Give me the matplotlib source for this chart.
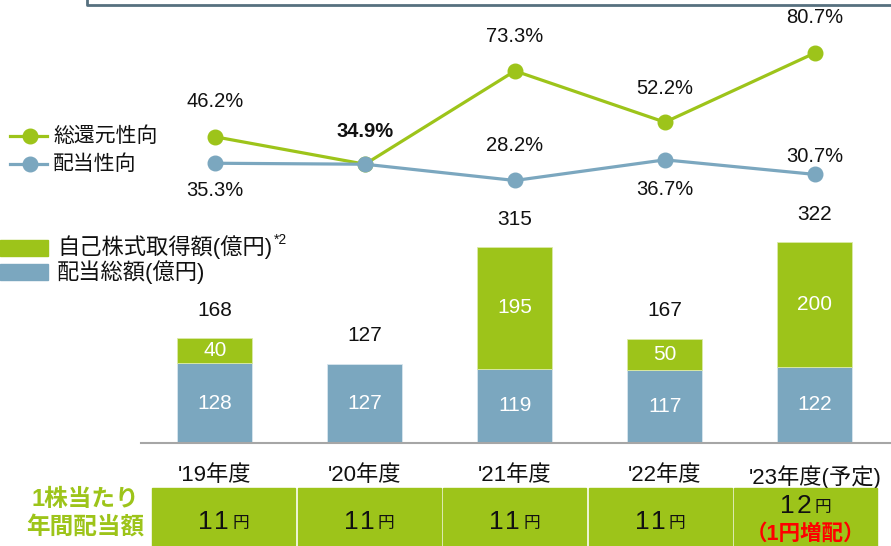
import matplotlib
matplotlib.use("Agg")
import matplotlib.pyplot as plt
from matplotlib.lines import Line2D
from matplotlib.patches import Rectangle
import numpy as np

plt.rcParams['font.family'] = ['Liberation Sans', 'Noto Sans CJK JP']

# fiscal years
years = ["'19年度", "'20年度", "'21年度", "'22年度", "'23年度(予定)"]
# payout ratios (%)
total_return = [46.2, 34.9, 73.3, 52.2, 80.7]
payout = [35.3, 34.9, 28.2, 36.7, 30.7]
# amounts (100 million yen)
dividends = [128, 127, 119, 117, 122]
buyback = [40, 0, 195, 50, 200]
totals = [168, 127, 315, 167, 322]
# annual dividend per share (yen)
dps = [11, 11, 11, 11, 12]
dps_note = ["", "", "", "", "（1円増配）"]

GREEN = "#9dc41a"
BLUE = "#7ba7bf"
TXT = "#111111"

W, H = 891, 546
fig = plt.figure(figsize=(W / 100, H / 100), dpi=100)


def fx(px):
    return px / W


def fy(py):
    return 1 - py / H


def px_axes(left, top, right, bottom):
    return fig.add_axes([fx(left), fy(bottom), (right - left) / W, (bottom - top) / H])


x = np.arange(len(years))
xlim = (-0.493, 4.507)

# frame of the upper panel (only its lower edge is visible)
fig.add_artist(Line2D([fx(87), fx(87), fx(891)], [fy(0), fy(5), fy(5)],
                      transform=fig.transFigure, color="#56707f", lw=2))

# ---- ratio lines
axl = px_axes(141, 0, 891, 249)
axl.set_xlim(*xlim)
axl.set_ylim(0, 102.5)
axl.axis("off")
axl.plot(x, total_return, color=GREEN, lw=2.3, marker="o", ms=10.5, clip_on=False, zorder=3)
axl.plot(x, payout, color=BLUE, lw=2.3, marker="o", ms=10.5, clip_on=False, zorder=4)

# label offsets in pixels (positive = above)
green_off = [35, 33, 34, 34, 35]
blue_off = [-27, 0, 35, -30, 18]
for i in x:
    same = total_return[i] == payout[i]
    axl.annotate(f"{total_return[i]:.1f}%", (i, total_return[i]), xytext=(0, green_off[i] * 0.72),
                 textcoords="offset points", ha="center", va="center", fontsize=14.5,
                 fontweight="bold" if same else "normal", color=TXT, annotation_clip=False)
    if same:
        continue
    axl.annotate(f"{payout[i]:.1f}%", (i, payout[i]), xytext=(0, blue_off[i] * 0.72),
                 textcoords="offset points", ha="center", va="center", fontsize=14.5,
                 color=TXT, annotation_clip=False)

# line legend
for py, col, lab in [(136, GREEN, "総還元性向"), (164, BLUE, "配当性向")]:
    fig.add_artist(Line2D([fx(10), fx(47)], [fy(py), fy(py)], transform=fig.transFigure,
                          color=col, lw=2.3))
    fig.add_artist(Line2D([fx(30)], [fy(py)], transform=fig.transFigure, color=col,
                          marker="o", ms=10.5))
    fig.text(fx(53), fy(py), lab, ha="left", va="center", fontsize=15, color=TXT)

# bar legend
fig.add_artist(Rectangle((0, fy(256)), fx(48), 16 / H, transform=fig.transFigure, color=GREEN))
fig.add_artist(Rectangle((0, fy(280)), fx(48), 16 / H, transform=fig.transFigure, color=BLUE))
t = fig.text(fx(57), fy(247), "自己株式取得額(億円)", ha="left", va="center", fontsize=16, color=TXT)
fig.text(fx(57), fy(272), "配当総額(億円)", ha="left", va="center", fontsize=16, color=TXT)
bb = t.get_window_extent(fig.canvas.get_renderer())
fig.text(bb.x1 / W + fx(2), fy(240), "*2", ha="left", va="center", fontsize=10, color=TXT)

# ---- stacked bars
axb = px_axes(141, 200, 891, 443)
axb.set_xlim(*xlim)
axb.set_ylim(0, 389)
for s in ["top", "right", "left"]:
    axb.spines[s].set_visible(False)
axb.spines["bottom"].set_color("#a6a6a6")
axb.spines["bottom"].set_linewidth(1.5)
axb.set_yticks([])
axb.bar(x, dividends, width=0.5, color=BLUE, edgecolor="#d8e6ee", lw=0.6)
has_bb = np.array(buyback) > 0
axb.bar(x[has_bb], np.array(buyback)[has_bb], width=0.5, bottom=np.array(dividends)[has_bb],
        color=GREEN, edgecolor="#dbeaa8", lw=0.6)
axb.set_xticks(x)
axb.set_xticklabels(years, fontsize=16, color=TXT)
axb.tick_params(axis="x", length=0, pad=16)

for i in x:
    axb.text(i, dividends[i] / 2, f"{dividends[i]}", ha="center", va="center",
             fontsize=15, color="white")
    if buyback[i]:
        axb.text(i, dividends[i] + buyback[i] / 2, f"{buyback[i]}", ha="center", va="center",
                 fontsize=15, color="white")
    top = dividends[i] + buyback[i]
    axb.annotate(f"{totals[i]}", (i, top), xytext=(0, 20), textcoords="offset points",
                 ha="center", va="center", fontsize=15, color=TXT, annotation_clip=False)

# ---- dividend per share row
axt = px_axes(151, 488, 878.5, 546)
axt.set_xlim(0, len(dps))
axt.set_ylim(0, 1)
axt.axis("off")
for i, v in enumerate(dps):
    axt.add_patch(Rectangle((i + 0.007, -0.3), 0.986, 1.3, color=GREEN, clip_on=False))
    yv = 0.69 if dps_note[i] else 0.41
    # wide-spaced digits, then a smaller yen sign
    for k, ch in enumerate(str(v)):
        axt.annotate(ch, (i + 0.5, yv), xytext=((-18 + 16 * k) * 0.72, 0),
                     textcoords="offset points", ha="center", va="center",
                     fontsize=19, color=TXT)
    axt.annotate("円", (i + 0.5, yv), xytext=(17 * 0.72, -1), textcoords="offset points",
                 ha="center", va="center", fontsize=12, color=TXT)
    if dps_note[i]:
        axt.text(i + 0.5, 0.2, dps_note[i], ha="center", va="center", fontsize=15.5,
                 fontweight="bold", color="#ff0000")

fig.text(fx(85), fy(499), "1株当たり", ha="center", va="center", fontsize=17,
         fontweight="bold", color=GREEN)
fig.text(fx(85), fy(527), "年間配当額", ha="center", va="center", fontsize=17,
         fontweight="bold", color=GREEN)

fig.savefig("out.png", dpi=100)
